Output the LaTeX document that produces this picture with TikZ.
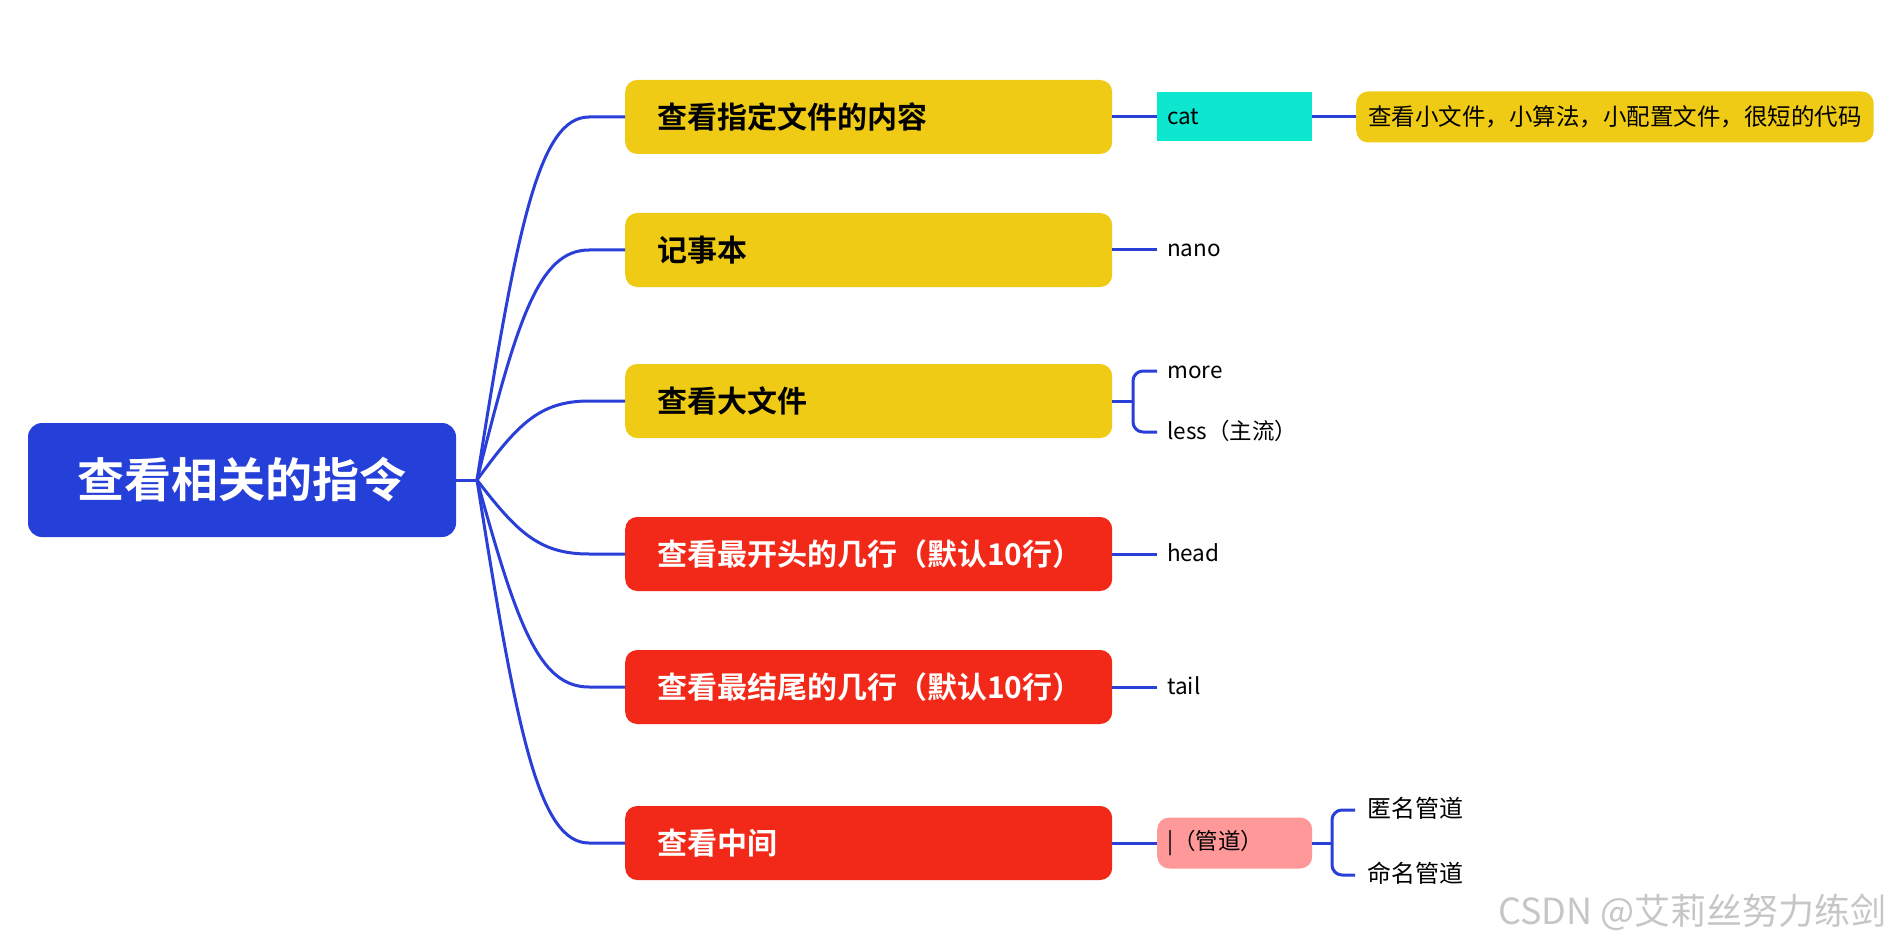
\documentclass[tikz,border=0pt]{standalone}
\usepackage{fontspec}
\setmainfont{Noto Sans CJK SC}[BoldFont={Noto Sans CJK SC Bold}]
\definecolor{rootblue}{HTML}{253FD9}
\definecolor{myyellow}{HTML}{F0CB15}
\definecolor{myred}{HTML}{F22818}
\definecolor{mycyan}{HTML}{0DE7D0}
\definecolor{mypink}{HTML}{FF9898}
\definecolor{linecol}{HTML}{2A3ED8}
\begin{document}
\begin{tikzpicture}[x=1pt,y=-1pt,
  rootbox/.style={fill=rootblue, text=white, rounded corners=14pt, minimum width=428pt, minimum height=114pt, inner sep=0pt, font=\bfseries\fontsize{47}{56}\selectfont},
  mainbox/.style={rounded corners=12pt, minimum height=74pt, text width=423pt, inner xsep=32pt, inner ysep=0pt, align=left, anchor=west, font=\bfseries\fontsize{30}{36}\selectfont},
  yel/.style={mainbox, fill=myyellow, text=black},
  redn/.style={mainbox, fill=myred, text=white},
  leaf/.style={anchor=west, inner xsep=10pt, inner ysep=2pt, text height=18pt, text depth=4pt, font=\fontsize{22.5}{26}\selectfont},
  smallbox/.style={anchor=west, minimum height=50pt, text width=135pt, inner xsep=10pt, inner ysep=0pt, align=left, font=\fontsize{22.5}{26}\selectfont},
  conn/.style={draw=linecol, line width=3pt}
]
\useasboundingbox (0,0) rectangle (1896,944);

\node[rootbox] (root) at (242,480) {查看相关的指令};
\coordinate (hub) at (477,480);

\node[yel] (n1) at (625,117) {查看指定文件的内容};
\node[yel] (n2) at (625,250) {记事本};
\node[yel] (n3) at (625,401) {查看大文件};
\node[redn] (n4) at (625,554) {查看最开头的几行（默认10行）};
\node[redn] (n5) at (625,687) {查看最结尾的几行（默认10行）};
\node[redn] (n6) at (625,843) {查看中间};

\coordinate (k1) at (589,117);
\coordinate (k2) at (589,250);
\coordinate (k3) at (589,401);
\coordinate (k4) at (589,554);
\coordinate (k5) at (589,687);
\coordinate (k6) at (589,843);

\draw[conn] (root.east) -- (hub);
\draw[conn] (hub) .. controls +(40,-254) and +(-50,0) .. (k1) -- (n1.west);
\draw[conn] (hub) .. controls +(40,-161) and +(-50,0) .. (k2) -- (n2.west);
\draw[conn] (hub) .. controls +(40,-55) and +(-50,0) .. (k3) -- (n3.west);
\draw[conn] (hub) .. controls +(40,52) and +(-50,0) .. (k4) -- (n4.west);
\draw[conn] (hub) .. controls +(40,145) and +(-50,0) .. (k5) -- (n5.west);
\draw[conn] (hub) .. controls +(40,254) and +(-50,0) .. (k6) -- (n6.west);

% branch 1
\node[smallbox, fill=mycyan, minimum height=49pt] (cat) at (1157,117) {cat};
\node[anchor=west, fill=myyellow, rounded corners=12pt, minimum width=516pt, minimum height=51pt, inner xsep=12pt, inner ysep=0pt, font=\fontsize{23.5}{28}\selectfont] (desc) at (1356,117) {查看小文件，小算法，小配置文件，很短的代码};
\draw[conn] (n1.east) -- (cat.west);
\draw[conn] (cat.east) -- (desc.west);

% branch 2
\node[leaf] (nano) at (1157,250) {nano};
\draw[conn] (n2.east) -- (nano.west);

% branch 3
\node[leaf] (more) at (1157,371) {more};
\node[leaf] (less) at (1157,432) {less（主流）};
\coordinate (b3) at (1133,401);
\draw[conn] (n3.east) -- (b3);
\draw[conn, rounded corners=10pt] (more.west) -| (b3) |- (less.west);

% branch 4, 5
\node[leaf] (head) at (1157,554) {head};
\draw[conn] (n4.east) -- (head.west);
\node[leaf] (tail) at (1157,687) {tail};
\draw[conn] (n5.east) -- (tail.west);

% branch 6
\node[smallbox, fill=mypink, rounded corners=12pt, minimum height=51pt] (pipe) at (1157,843) {|（管道）};
\draw[conn] (n6.east) -- (pipe.west);
\coordinate (b6) at (1332,843);
\node[leaf, inner xsep=12pt, font=\fontsize{24}{28}\selectfont] (anon) at (1355,810) {匿名管道};
\node[leaf, inner xsep=12pt, font=\fontsize{24}{28}\selectfont] (named) at (1355,875) {命名管道};
\draw[conn] (pipe.east) -- (b6);
\draw[conn, rounded corners=10pt] (anon.west) -| (b6) |- (named.west);

% watermark
\node[anchor=west, inner sep=0pt, text=gray!45, font=\fontsize{36}{42}\selectfont] (wm) at (1498,912) {CSDN @艾莉丝努力练剑};
\end{tikzpicture}
\end{document}
